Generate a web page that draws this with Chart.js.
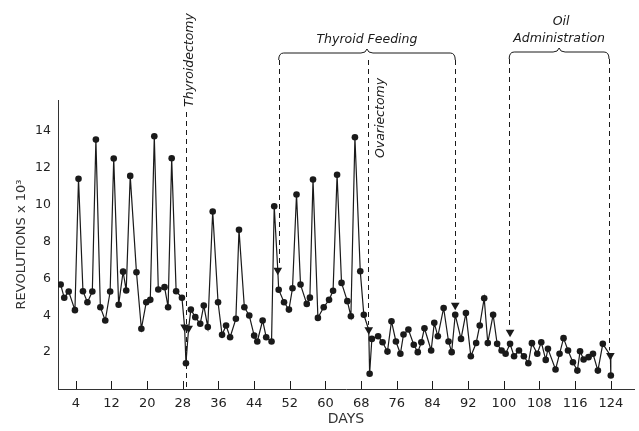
<!DOCTYPE html>
<html>
<head>
<meta charset="utf-8">
<script src="https://cdn.jsdelivr.net/npm/chart.js@4.4.1/dist/chart.umd.min.js"></script>
<style>
  html, body { margin: 0; padding: 0; background: #fff; }
  #chart-container { width: 639px; height: 431px; }
</style>
</head>
<body>
<div id="chart-container"><canvas id="chart" width="639" height="431"></canvas></div>
<script>
// daily wheel revolutions (x 1000)
const days = [0.6, 1.4, 2.4, 3.8, 4.6, 5.6, 6.6, 7.7, 8.5, 9.5, 10.6, 11.7, 12.5, 13.6, 14.6, 15.3, 16.2, 17.6, 18.7, 19.8,
    20.7, 21.6, 22.5, 23.9, 24.7, 25.5, 26.5, 27.8, 28.4, 28.7, 29.3, 29.8, 30.8, 31.9, 32.7, 33.6, 34.7, 35.9, 36.8, 37.7,
    38.6, 39.9, 40.6, 41.8, 42.9, 44.0, 44.7, 45.9, 46.7, 47.9, 48.5, 49.3, 49.5, 50.7, 51.8, 52.6, 53.5, 54.4, 55.8, 56.5,
    57.2, 58.3, 59.6, 60.8, 61.7, 62.6, 63.6, 64.9, 65.7, 66.6, 67.8, 68.6, 69.7, 69.9, 70.4, 71.8, 72.8, 73.9, 74.8, 75.8,
    76.8, 77.5, 78.6, 79.8, 80.7, 81.5, 82.2, 83.7, 84.4, 85.2, 86.5, 87.6, 88.3, 89.1, 90.4, 91.5, 92.6, 93.8, 94.6, 95.6,
    96.4, 97.6, 98.5, 99.5, 100.4, 101.4, 102.3, 103.4, 104.5, 105.5, 106.3, 107.5, 108.4, 109.4, 109.9, 111.6, 112.5, 113.4,
    114.4, 115.5, 116.5, 117.1, 117.9, 119.0, 120.0, 121.1, 122.2, 123.9, 124.0];
const revs = [5.67, 4.95, 5.29, 4.28, 11.41, 5.31, 4.71, 5.29, 13.54, 4.44, 3.72, 5.29, 12.51, 4.57, 6.37, 5.35, 11.57, 6.34, 3.27, 4.71,
    4.84, 13.72, 5.40, 5.53, 4.44, 12.53, 5.31, 4.95, 3.36, 1.40, 3.30, 4.31, 3.90, 3.54, 4.53, 3.36, 9.64, 4.71, 2.94, 3.45,
    2.81, 3.81, 8.64, 4.44, 3.99, 2.90, 2.58, 3.72, 2.81, 2.58, 9.92, 6.45, 5.39, 4.71, 4.31, 5.47, 10.56, 5.67, 4.62, 4.96,
    11.37, 3.86, 4.44, 4.84, 5.33, 11.63, 5.76, 4.77, 3.95, 13.67, 6.39, 4.03, 3.21, 0.83, 2.72, 2.86, 2.54, 2.03, 3.68, 2.58,
    1.91, 2.96, 3.23, 2.40, 2.00, 2.54, 3.30, 2.09, 3.59, 2.86, 4.40, 2.58, 2.00, 4.03, 2.72, 4.12, 1.78, 2.50, 3.45, 4.93,
    2.50, 4.03, 2.45, 2.09, 1.91, 2.45, 1.78, 2.09, 1.78, 1.40, 2.49, 1.91, 2.54, 1.58, 2.18, 1.06, 1.91, 2.76,
    2.09, 1.45, 1.00, 2.05, 1.60, 1.73, 1.91, 1.00, 2.45, 1.82, 0.73];

// triangles marking the operations / treatments
const markDays = [28.4, 29.3, 49.3, 69.7, 89.1, 101.4, 123.9];
const markRevs = [3.36, 3.30, 6.45, 3.21, 4.55, 3.08, 1.82];

const xTicks = [4, 12, 20, 28, 36, 44, 52, 60, 68, 76, 84, 92, 100, 108, 116, 124];
const yTicks = [2, 4, 6, 8, 10, 12, 14];

const thyroidectomyDay = 28.7;
const ovariectomyDay = 69.6;
const feedingSpan = [49.5, 89.1];
const oilSpan = [101.2, 123.6];

const ink = '#1a1a1a';
const labelFont = 'italic 12.5px "DejaVu Sans"';

function isMarked(i) {
    return markDays.some((d, k) => d === days[i] && markRevs[k] === revs[i]);
}

function brace(ctx, x1, x2, y) {
    const mid = (x1 + x2) / 2;
    ctx.beginPath();
    ctx.moveTo(x1, y + 7);
    ctx.quadraticCurveTo(x1, y, x1 + 5, y);
    ctx.lineTo(mid - 6, y);
    ctx.quadraticCurveTo(mid - 1, y, mid, y - 4);
    ctx.quadraticCurveTo(mid + 1, y, mid + 6, y);
    ctx.lineTo(x2 - 5, y);
    ctx.quadraticCurveTo(x2, y, x2, y + 7);
    ctx.stroke();
}

function vtext(ctx, text, cx, cy) {
    ctx.save();
    ctx.translate(cx, cy);
    ctx.rotate(-Math.PI / 2);
    ctx.textAlign = 'center';
    ctx.textBaseline = 'middle';
    ctx.fillText(text, 0, 0);
    ctx.restore();
}

const notes = {
    id: 'notes',
    afterDatasetsDraw(chart) {
        const {ctx, chartArea} = chart;
        const x = chart.scales.x, y = chart.scales.y;
        ctx.save();
        ctx.strokeStyle = ink;
        ctx.fillStyle = ink;
        ctx.lineWidth = 1;

        // tick marks stand inside the axis
        ctx.beginPath();
        xTicks.forEach(t => {
            const px = Math.round(x.getPixelForValue(t)) + 0.5;
            ctx.moveTo(px, chartArea.bottom);
            ctx.lineTo(px, chartArea.bottom - 8);
        });
        ctx.stroke();

        // brackets
        brace(ctx, x.getPixelForValue(feedingSpan[0]), x.getPixelForValue(feedingSpan[1]), 53);
        brace(ctx, x.getPixelForValue(oilSpan[0]), x.getPixelForValue(oilSpan[1]), 52);

        // dashed drop lines
        ctx.setLineDash([5, 4]);
        const drop = (day, y1, y2) => {
            const px = Math.round(x.getPixelForValue(day)) + 0.5;
            ctx.beginPath();
            ctx.moveTo(px, y1);
            ctx.lineTo(px, y2);
            ctx.stroke();
        };
        drop(thyroidectomyDay, 112, chartArea.bottom);
        drop(feedingSpan[0], 60, y.getPixelForValue(markRevs[2]) - 5);
        drop(feedingSpan[1], 60, y.getPixelForValue(markRevs[4]) - 5);
        drop(ovariectomyDay, 60, y.getPixelForValue(markRevs[3]) - 5);
        drop(oilSpan[0], 59, y.getPixelForValue(markRevs[5]) - 5);
        drop(oilSpan[1], 59, y.getPixelForValue(markRevs[6]) - 5);
        ctx.setLineDash([]);

        // labels
        ctx.font = labelFont;
        vtext(ctx, 'Thyroidectomy', x.getPixelForValue(thyroidectomyDay) + 4, 60);
        vtext(ctx, 'Ovariectomy', x.getPixelForValue(ovariectomyDay) + 12, 118);
        ctx.textAlign = 'center';
        ctx.textBaseline = 'middle';
        const fMid = (x.getPixelForValue(feedingSpan[0]) + x.getPixelForValue(feedingSpan[1])) / 2;
        ctx.fillText('Thyroid Feeding', fMid, 40);
        const oMid = (x.getPixelForValue(oilSpan[0]) + x.getPixelForValue(oilSpan[1])) / 2;
        ctx.fillText('Oil', oMid + 2, 22);
        ctx.fillText('Administration', oMid, 39);
        ctx.restore();
    }
};

const chart = document.getElementById('chart').getContext('2d');
const chartData = {
    datasets: [{
        label: 'Revolutions',
        data: days.map((d, i) => ({x: d, y: revs[i]})),
        borderColor: ink,
        borderWidth: 1.2,
        pointRadius: c => isMarked(c.dataIndex) ? 0 : 3.3,
        pointBackgroundColor: ink,
        pointBorderColor: ink,
        pointBorderWidth: 0,
        tension: 0,
        fill: false
    }, {
        label: 'Events',
        data: markDays.map((d, i) => ({x: d, y: markRevs[i]})),
        showLine: false,
        pointStyle: 'triangle',
        rotation: 180,
        pointRadius: 5,
        pointBackgroundColor: ink,
        pointBorderColor: ink,
        pointBorderWidth: 0
    }]
};

const tickFont = {family: 'DejaVu Sans', size: 12.5};

const chartConfig = {
    type: 'line',
    data: chartData,
    options: {
        responsive: false,
        maintainAspectRatio: false,
        animation: false,
        layout: {padding: {top: 100, left: 0, right: 3, bottom: 0}},
        plugins: {legend: {display: false}, tooltip: {enabled: false}},
        scales: {
            x: {
                type: 'linear',
                min: 0,
                max: 129.2,
                afterBuildTicks: s => { s.ticks = xTicks.map(v => ({value: v})); },
                afterFit: s => { s.height = 42; },
                grid: {display: false, drawTicks: false},
                border: {display: true, color: '#333', width: 1},
                ticks: {color: '#222', font: {family: 'DejaVu Sans', size: 13}, padding: 7, maxRotation: 0, autoSkip: false},
                title: {display: true, text: 'DAYS', color: '#333', font: {family: 'DejaVu Sans', size: 14}, padding: {top: 0, bottom: 3}}
            },
            y: {
                min: 0,
                max: 15.69,
                afterBuildTicks: s => { s.ticks = yTicks.map(v => ({value: v})); },
                afterFit: s => { s.width = 58; },
                grid: {display: false, drawTicks: false},
                border: {display: true, color: '#333', width: 1},
                ticks: {color: '#222', font: tickFont, padding: 7},
                title: {display: true, text: 'REVOLUTIONS x 10³', color: '#333', font: {family: 'DejaVu Sans', size: 13}, padding: {top: 14, bottom: 0}}
            }
        }
    },
    plugins: [notes]
};

const myChart = new Chart(chart, chartConfig);
</script>
</body>
</html>
